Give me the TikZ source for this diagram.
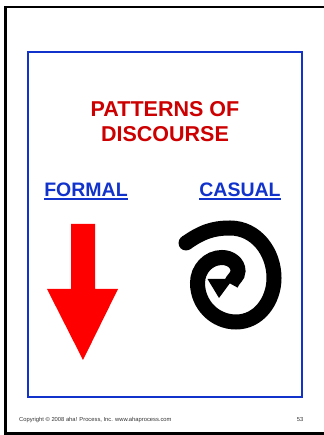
\documentclass[tikz,border=0pt]{standalone}
\usepackage{fontspec}
\setmainfont{Liberation Sans}
\usetikzlibrary{positioning}
\definecolor{slideblue}{RGB}{17,51,204}
\definecolor{titlered}{RGB}{204,0,0}

\begin{document}
\begin{tikzpicture}[x=1pt,y=1pt,
  frame/.style={draw=black, line width=2.5pt},
  panel/.style={draw=slideblue, line width=2pt},
  title/.style={text=titlered, font=\fontsize{21.5}{25}\selectfont\bfseries, inner sep=0pt, anchor=base},
  head/.style={text=slideblue, font=\fontsize{19.5}{22}\selectfont\bfseries, inner sep=0pt, anchor=base},
  uline/.style={draw=slideblue, line width=1.7pt},
  foot/.style={font=\fontsize{5.8}{7}\selectfont, text=black!80, inner sep=0pt, anchor=base west},
]
\useasboundingbox (0,0) rectangle (323,435);
% slide frame and blue panel
\draw[frame] (5.3,428) rectangle (326,1.5);
\draw[panel] (28,383) rectangle (302,38);
% title
\node[title] (ttl1) at (165,318.3) {PATTERNS OF};
\node[title] (ttl2) at ([yshift=-25pt]ttl1.base) {DISCOURSE};
% the two headings, underlined
\node[head] (formal) at (86,238.3) {FORMAL};
\node[head] (casual) at (240,238.3) {CASUAL};
\draw[uline] ([yshift=-2.6pt]formal.base west) -- ([yshift=-2.6pt]formal.base east);
\draw[uline] ([yshift=-2.6pt]casual.base west) -- ([yshift=-2.6pt]casual.base east);
% formal: straight red arrow down
\fill[red] (71,211) -- (95,211) -- (95,146) -- (118,146) -- (83,75) -- (47,146) -- (71,146) -- cycle;
% casual: black spiral ending in an arrow head
\coordinate (sp0) at (186,192);
\fill (sp0) circle[radius=7.5pt];
\draw[line width=15pt] (sp0) to[out=35,in=180] (230,207) to[out=0,in=90] (274,157)
  to[out=-90,in=0] (236,113) to[out=180,in=-90] (197.5,152) to[out=90,in=180] (222,177.5)
  to[out=0,in=90] (238,164) to[out=-90,in=70] (231,151);
\fill (207.5,156) -- (233,156) -- (219,137) -- cycle;
% footer
\node[foot] (copy) at (19,13.5) {Copyright © 2008 aha! Process, Inc. www.ahaprocess.com};
\node[foot, anchor=base] (page) at (300,13.5) {53};
\end{tikzpicture}
\end{document}
